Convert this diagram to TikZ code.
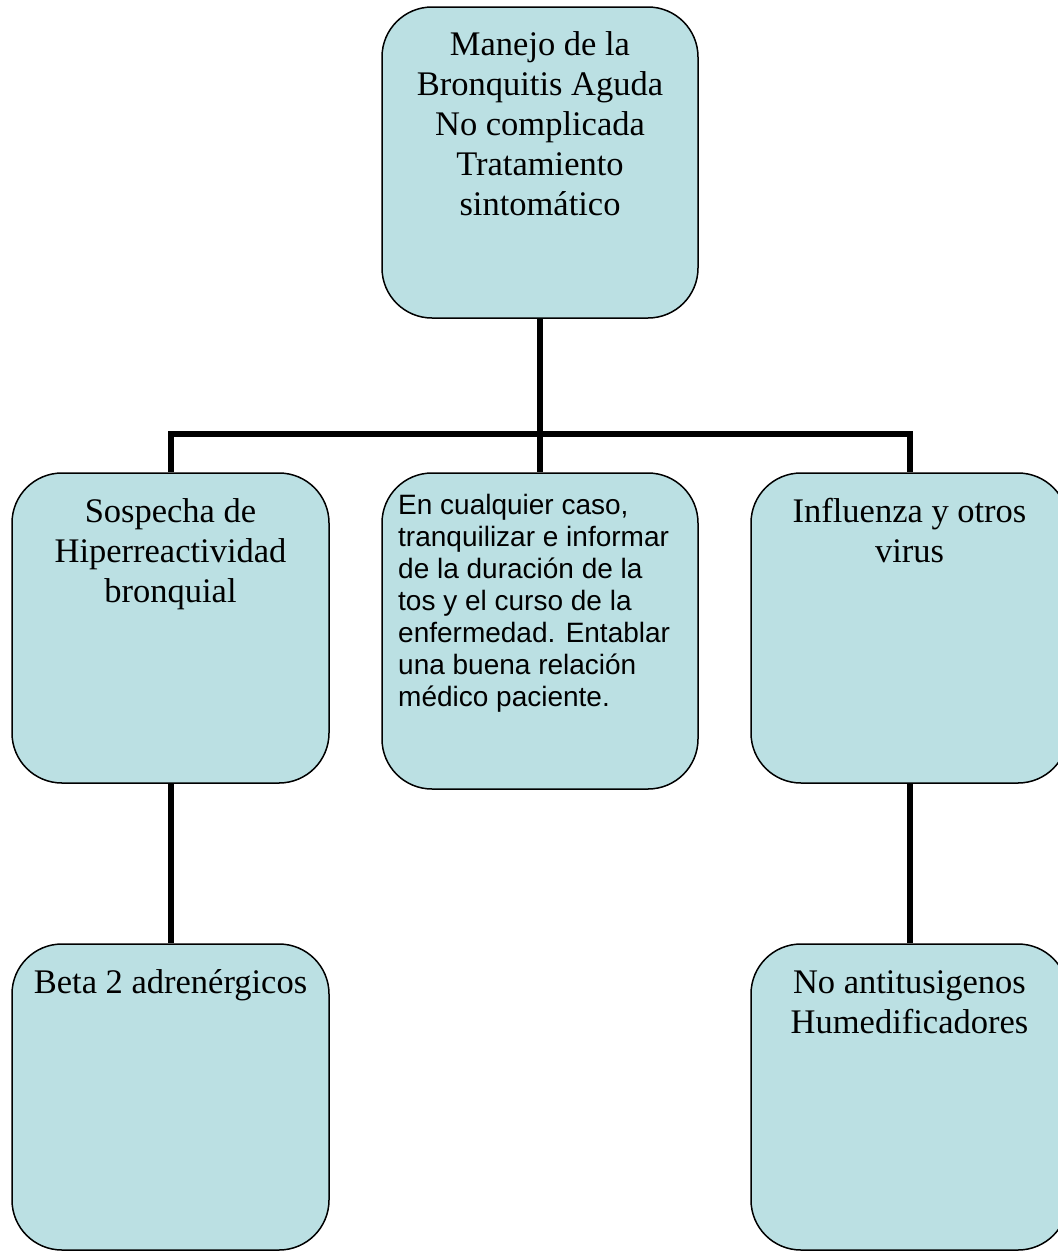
\documentclass[tikz,border=0pt]{standalone}
\usepackage{fontspec}
\setmainfont{Liberation Serif}
\newfontfamily\arialfont{Liberation Sans}
\definecolor{boxfill}{RGB}{187,224,227}
\begin{document}
\begin{tikzpicture}[x=1pt,y=-1pt,
  boxshape/.style={draw=black,line width=1.5pt,fill=boxfill,rounded corners=50pt,
    inner sep=0pt,minimum width=#1},
  boxshape/.default=317pt,
  conn/.style={line width=6pt,draw=black},
  serift/.style={anchor=base,inner sep=0pt,font=\fontsize{34.5}{40}\selectfont},
  arialt/.style={anchor=base west,inner sep=0pt,font=\arialfont\fontsize{28}{32}\selectfont}]
\clip (0,0) rectangle (1058,1251);
% boxes
\node[boxshape=316pt,minimum height=311pt] (top) at (540,162.5) {};
\node[boxshape,minimum height=310pt] (left) at (170.5,628) {};
\node[boxshape=316pt,minimum height=316pt] (mid) at (540,631) {};
\node[boxshape,minimum height=310pt] (right) at (909.5,628) {};
\node[boxshape,minimum height=306pt] (botleft) at (170.5,1097) {};
\node[boxshape,minimum height=306pt] (botright) at (909.5,1097) {};
% connectors
\coordinate (bus) at (540,434);
\draw[conn] (top.south) -- (bus);
\draw[conn] (left.north) |- (bus) -| (right.north);
\draw[conn] (bus) -- (mid.north);
\draw[conn] (left.south) -- (botleft.north);
\draw[conn] (right.south) -- (botright.north);
% texts
\node[serift] (ttop) at (540,55) {\parbox[t]{310pt}{\centering Manejo de la\\ Bronquitis Aguda\\ No complicada\\ Tratamiento\\ sintomático}};
\node[serift] (tleft) at (170.5,522) {\parbox[t]{310pt}{\centering Sospecha de\\ Hiperreactividad\\ bronquial}};
\node[arialt] (tmid) at (398,514.5) {\parbox[t]{295pt}{\raggedright En cualquier caso,\\ tranquilizar e informar\\ de la duración de la\\ tos y el curso de la\\ enfermedad. Entablar\\ una buena relación\\ médico paciente.}};
\node[serift] (tright) at (909.5,522) {\parbox[t]{310pt}{\centering Influenza y otros\\ virus}};
\node[serift] (tbotleft) at (170.5,993) {\parbox[t]{310pt}{\centering Beta 2 adrenérgicos}};
\node[serift] (tbotright) at (909.5,993) {\parbox[t]{310pt}{\centering No antitusigenos\\ Humedificadores}};
\end{tikzpicture}
\end{document}
